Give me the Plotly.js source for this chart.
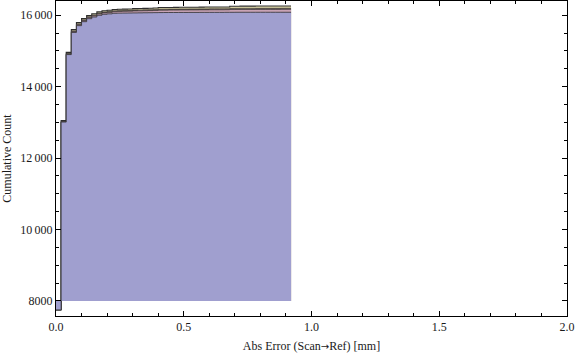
<!DOCTYPE html>
<html>
<head>
<meta charset="utf-8">
<script src="https://cdn.plot.ly/plotly-3.0.1.min.js"></script>
<style>html,body{margin:0;padding:0;background:#fff;}#chart{width:576px;height:356px;}</style>
</head>
<body>
<div id="chart"></div>
<script>
// Bin edges (Abs Error, mm) — 46 bins of width 0.02
const binEdges = [0.00,0.02,0.04,0.06,0.08,0.10,0.12,0.14,0.16,0.18,0.20,0.22,0.24,0.26,0.28,0.30,0.32,0.34,0.36,0.38,0.40,0.42,0.44,0.46,0.48,0.50,0.52,0.54,0.56,0.58,0.60,0.62,0.64,0.66,0.68,0.70,0.72,0.74,0.76,0.78,0.80,0.82,0.84,0.86,0.88,0.90,0.92];

// Cumulative counts per bin for each stacked series
const seriesBlue = [7750,13010,14900,15520,15710,15821,15905,15952,16000,16028,16040,16056,16060,16062,16064,16066,16068,16070,16072,16074,16076,16077,16078,16078,16079,16079,16080,16080,16081,16081,16082,16082,16082,16083,16083,16084,16084,16084,16084,16085,16085,16085,16085,16085,16085,16085];
const seriesPink = [0,8,12,18,22,26,30,32,35,38,40,43,46,48,50,55,56,57,58,59,66,66,67,67,68,68,69,69,70,70,71,71,71,71,78,78,79,79,79,79,80,80,80,80,81,81];
const seriesBrown = [0,14,20,26,26,26,25,25,25,25,25,25,25,25,25,26,26,26,26,26,28,28,28,28,28,28,28,28,28,28,28,28,28,28,30,30,30,30,30,30,30,30,30,30,30,30];
const seriesBeige = [0,18,28,36,37,36,35,35,35,35,35,36,37,37,37,39,40,41,42,43,46,47,47,48,48,49,49,50,50,51,51,51,52,52,62,63,63,63,64,64,64,64,65,65,65,65];

const baseline = 8000;
const xTickVals = [0, 0.5, 1, 1.5, 2];
const xTickText = ['0.0', '0.5', '1.0', '1.5', '2.0'];
const yTickVals = [8000, 10000, 12000, 14000, 16000];
const yTickText = ['8000', '10\u2009000', '12\u2009000', '14\u2009000', '16\u2009000'];

const colors = {
  blue: '#a09fcf',
  pink: '#c9a3b6',
  brown: '#6b5c58',
  beige: '#d8d2a6',
  edge: '#2e2e2e'
};

const layers = [
  {name: 'blue', vals: seriesBlue, color: colors.blue, lw: 0.8},
  {name: 'pink', vals: seriesPink, color: colors.pink, lw: 0.6},
  {name: 'brown', vals: seriesBrown, color: colors.brown, lw: 0.6},
  {name: 'beige', vals: seriesBeige, color: colors.beige, lw: 1.1}
];
const tops = [];
let acc = seriesBlue.map(() => 0);
layers.forEach(L => {
  acc = acc.map((a, i) => a + L.vals[i]);
  tops.push(acc.slice());
});

const xEnd = binEdges[binEdges.length - 1];
const traces = [];
for (let k = layers.length - 1; k >= 0; k--) {
  const t = tops[k];
  traces.push({
    x: [binEdges[0], xEnd], y: [baseline, baseline],
    mode: 'lines', line: {width: 0, color: 'rgba(0,0,0,0)'},
    hoverinfo: 'skip', showlegend: false
  });
  traces.push({
    x: binEdges,
    y: t.concat([t[t.length - 1]]),
    mode: 'lines',
    line: {shape: 'hv', color: colors.edge, width: layers[k].lw},
    fill: 'tonexty',
    fillcolor: layers[k].color,
    showlegend: false
  });
}

const fontFam = '"Liberation Serif", "Times New Roman", serif';
const layout = {
  width: 576, height: 356,
  margin: {l: 56, r: 9, t: 1, b: 40},
  paper_bgcolor: '#fff', plot_bgcolor: '#fff',
  showlegend: false,
  font: {family: fontFam, size: 12, color: '#1a1a1a'},
  xaxis: {
    range: [0, 2],
    tickvals: xTickVals, ticktext: xTickText,
    ticks: 'inside', ticklen: 5, tickwidth: 1, tickcolor: '#000',
    minor: {dtick: 0.1, ticks: 'inside', ticklen: 3, tickcolor: '#000', tickwidth: 1, showgrid: false},
    showline: true, linecolor: '#000', linewidth: 1, mirror: 'allticks',
    showgrid: false, zeroline: false,
    tickfont: {family: fontFam, size: 12, color: '#1a1a1a'},
    title: {text: 'Abs Error (Scan<span style="font-family:DejaVu Sans;font-size:10px">\u2192</span>Ref) [mm]', font: {family: fontFam, size: 12, color: '#1a1a1a'}, standoff: 8}
  },
  yaxis: {
    range: [7579, 16400],
    tickvals: yTickVals, ticktext: yTickText,
    ticks: 'inside', ticklen: 5, tickwidth: 1, tickcolor: '#000',
    minor: {dtick: 500, tick0: 8000, ticks: 'inside', ticklen: 3, tickcolor: '#000', tickwidth: 1, showgrid: false},
    showline: true, linecolor: '#000', linewidth: 1, mirror: 'allticks',
    showgrid: false, zeroline: false,
    tickfont: {family: fontFam, size: 12, color: '#1a1a1a'},
    title: {text: 'Cumulative Count', font: {family: fontFam, size: 12, color: '#1a1a1a'}, standoff: 6}
  }
};

Plotly.newPlot('chart', traces, layout, {displayModeBar: false, staticPlot: true});
</script>
</body>
</html>
